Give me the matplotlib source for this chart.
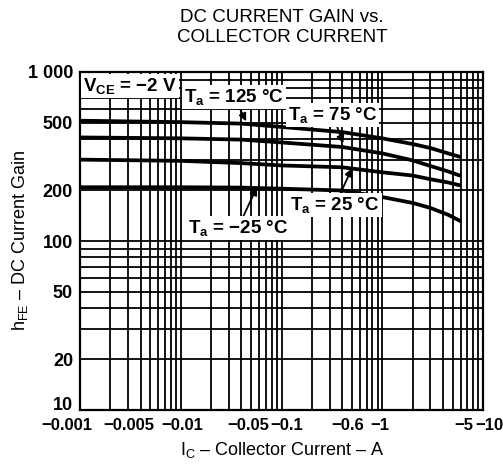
import matplotlib
matplotlib.use("Agg")
import matplotlib.pyplot as plt
import matplotlib.transforms as mtransforms
from matplotlib.ticker import LogLocator, NullFormatter

plt.rcParams['font.family'] = ['Liberation Sans', 'DejaVu Sans']
plt.rcParams['mathtext.fontset'] = 'custom'
plt.rcParams['mathtext.rm'] = 'Liberation Sans'
plt.rcParams['mathtext.bf'] = 'Liberation Sans:bold'

# ---- data (collector current magnitude in A, DC current gain) ----
current = [0.001, 0.01, 0.04, 0.1, 0.4, 1, 2, 3, 4.5, 6]
gain_125 = [515, 505, 495, 473, 441, 405, 375, 355, 330, 314]
gain_75 = [410, 405, 398, 383, 360, 330, 300, 278, 258, 243]
gain_25 = [303, 298, 289, 280, 273, 255, 244, 232, 222, 213]
gain_m25 = [208, 208, 207, 204, 199, 182, 168, 157, 143, 131]

x_ticks = [0.001, 0.005, 0.01, 0.05, 0.1, 0.6, 1, 5, 10]
x_ticklabels = ['\u22120.001', '\u22120.005', '\u22120.01', '\u22120.05', '\u22120.1',
                '\u22120.6', '\u22121', '\u22125', '\u221210']
y_ticks = [10, 20, 50, 100, 200, 500, 1000]
y_ticklabels = ['10', '20', '50', '100', '200', '500', '1 000']

MINUS = '\u2212'
DEG = '\u00b0'
DASH = '\u2013'

fig = plt.figure(figsize=(5.03, 4.70), dpi=100)
ax = fig.add_axes([80/503, 60/470, 403/503, 338/470])
ax.set_xscale('log')
ax.set_yscale('log')
ax.set_xlim(0.001, 10)
ax.set_ylim(10, 1000)

ax.grid(True, which='both', color='black', linewidth=1.3)
ax.set_axisbelow(True)

for g in (gain_125, gain_75, gain_25, gain_m25):
    ax.plot(current, g, color='black', linewidth=2.7, solid_capstyle='butt', zorder=3)

ax.xaxis.set_minor_locator(LogLocator(base=10, subs=range(1, 10)))
ax.xaxis.set_minor_formatter(NullFormatter())
ax.set_xticks(x_ticks)
ax.set_xticklabels(x_ticklabels)
ax.yaxis.set_minor_locator(LogLocator(base=10, subs=range(1, 10)))
ax.yaxis.set_minor_formatter(NullFormatter())
ax.set_yticks(y_ticks)
ax.set_yticklabels(y_ticklabels)
ax.tick_params(which='both', length=0)
ax.tick_params(axis='x', labelsize=12, pad=6)
ax.tick_params(axis='y', labelsize=13, pad=5)
for lab in ax.get_xticklabels() + ax.get_yticklabels():
    lab.set_fontweight('bold')

# nudge crowded x tick labels (pixels)
x_label_shift = [-13, -22, 2, -3, 5, -12, -2, 11, 6]
for lab, dx in zip(ax.get_xticklabels(), x_label_shift):
    off = mtransforms.ScaledTranslation(dx / 100.0, 0, fig.dpi_scale_trans)
    lab.set_transform(lab.get_transform() + off)
# lift the bottom y label above the axis line
ylabs = ax.get_yticklabels()
ylabs[0].set_transform(ylabs[0].get_transform() +
                       mtransforms.ScaledTranslation(0, 6 / 100.0, fig.dpi_scale_trans))

for s in ax.spines.values():
    s.set_linewidth(1.6)

ax.set_xlabel(r'$\mathregular{I_C}$ ' + DASH + ' Collector Current ' + DASH + ' A', fontsize=13)
ax.xaxis.set_label_coords((282 - 80) / 403, -(450 - 410) / 338)
ax.xaxis.label.set_va('center')
ax.set_ylabel(r'$\mathregular{h_{FE}}$ ' + DASH + ' DC Current Gain', fontsize=13)
ax.yaxis.set_label_coords(-(80 - 20) / 403, (410 - 240) / 338)
ax.yaxis.label.set_va('center')

fig.text(282/503, 1 - 27.5/470, 'DC CURRENT GAIN vs.\nCOLLECTOR CURRENT', ha='center',
         va='center', fontsize=13.5, linespacing=1.2)

box = dict(boxstyle='square,pad=0.1', facecolor='white', edgecolor='none')
ax.text(0.00107, 830, r'$\mathbf{V_{CE}}$ = ' + MINUS + '2 V',
        ha='left', va='center', fontsize=13.5, fontweight='bold', bbox=box, zorder=5)

arrow = dict(arrowstyle='-|>', color='black', linewidth=1.3, mutation_scale=11,
             shrinkA=0, shrinkB=0)
ax.annotate(r'$\mathbf{T_a}$ = 125 ' + DEG + 'C',
            xy=(0.0446, 511), xytext=(0.0337, 713), ha='center', va='center',
            fontsize=13.5, fontweight='bold', bbox=box, zorder=5, arrowprops=arrow)
ax.annotate(r'$\mathbf{T_a}$ = 75 ' + DEG + 'C',
            xy=(0.41, 378), xytext=(0.324, 555), ha='center', va='center',
            fontsize=13.5, fontweight='bold', bbox=box, zorder=5, arrowprops=arrow)
ax.annotate(r'$\mathbf{T_a}$ = 25 ' + DEG + 'C',
            xy=(0.5, 269), xytext=(0.34, 163), ha='center', va='center',
            fontsize=13.5, fontweight='bold', bbox=box, zorder=5, arrowprops=arrow)
ax.annotate(r'$\mathbf{T_a}$ = ' + MINUS + '25 ' + DEG + 'C',
            xy=(0.057, 208), xytext=(0.0368, 119), ha='center', va='center',
            fontsize=13.5, fontweight='bold', bbox=box, zorder=5, arrowprops=arrow)

fig.savefig('out.png', dpi=100)
